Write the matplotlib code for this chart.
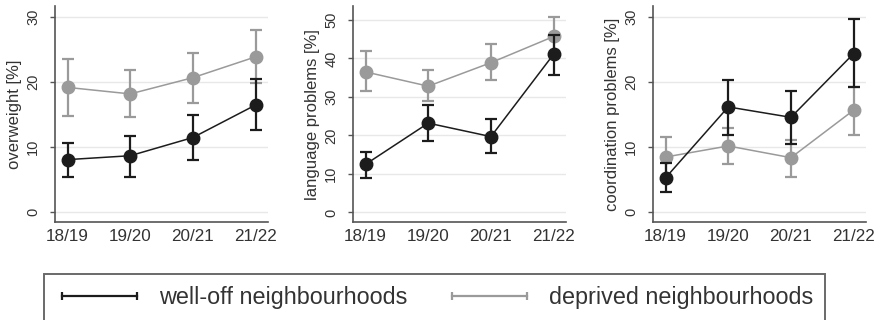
import matplotlib
matplotlib.use("Agg")
import matplotlib.pyplot as plt
from matplotlib.lines import Line2D
import numpy as np

# school years
years = ["18/19", "19/20", "20/21", "21/22"]

# overweight [%]
ow_welloff = [8.1, 8.7, 11.5, 16.5]
ow_welloff_lo = [5.4, 5.4, 8.1, 12.6]
ow_welloff_hi = [10.7, 11.8, 14.9, 20.5]
ow_deprived = [19.2, 18.2, 20.7, 23.9]
ow_deprived_lo = [14.8, 14.7, 16.8, 19.9]
ow_deprived_hi = [23.6, 21.8, 24.5, 28.0]

# language problems [%]
lang_welloff = [12.5, 23.2, 19.7, 41.1]
lang_welloff_lo = [9.0, 18.5, 15.5, 35.7]
lang_welloff_hi = [15.8, 27.8, 24.3, 46.0]
lang_deprived = [36.5, 32.8, 38.9, 45.7]
lang_deprived_lo = [31.5, 29.0, 34.5, 41.0]
lang_deprived_hi = [41.9, 37.0, 43.8, 50.7]

# coordination problems [%]
coord_welloff = [5.3, 16.2, 14.6, 24.4]
coord_welloff_lo = [3.1, 11.9, 10.5, 19.2]
coord_welloff_hi = [7.6, 20.4, 18.6, 29.7]
coord_deprived = [8.5, 10.2, 8.4, 15.7]
coord_deprived_lo = [5.4, 7.4, 5.5, 11.9]
coord_deprived_hi = [11.6, 13.0, 11.1, 19.2]

BLACK = "#1c1c1c"
GREY = "#9a9a9a"
FONT = ["Liberation Sans", "DejaVu Sans"]

fig = plt.figure(figsize=(8.79, 3.2), dpi=100)

panels = [
    (0.0626, "overweight [%]", [0, 10, 20, 30], (-1.5, 31.7),
     (ow_welloff, ow_welloff_lo, ow_welloff_hi),
     (ow_deprived, ow_deprived_lo, ow_deprived_hi)),
    (0.4016, "language problems [%]", [0, 10, 20, 30, 40, 50], (-2.5, 53.6),
     (lang_welloff, lang_welloff_lo, lang_welloff_hi),
     (lang_deprived, lang_deprived_lo, lang_deprived_hi)),
    (0.7429, "coordination problems [%]", [0, 10, 20, 30], (-1.5, 31.7),
     (coord_welloff, coord_welloff_lo, coord_welloff_hi),
     (coord_deprived, coord_deprived_lo, coord_deprived_hi)),
]

x = np.arange(1, len(years) + 1)

for left, label, yticks, ylim, well, dep in panels:
    ax = fig.add_axes([left, 0.306, 0.2425, 0.675])
    for (vals, lo, hi), col, z in [(dep, GREY, 2), (well, BLACK, 3)]:
        vals = np.array(vals)
        err = [vals - np.array(lo), np.array(hi) - vals]
        ax.errorbar(x, vals, yerr=err, color=col, lw=1.1, marker="o",
                    ms=9, elinewidth=1.6, capsize=4, capthick=1.6, zorder=z)
    ax.set_xlim(0.8, 4.2)
    ax.set_ylim(*ylim)
    ax.set_xticks(x)
    ax.set_xticklabels(years, family=FONT, fontsize=12.3, color="#333333")
    ax.set_yticks(yticks)
    ax.set_yticklabels([str(t) for t in yticks], family=FONT, fontsize=10.5,
                       rotation=90, va="center", color="#333333")
    ax.tick_params(axis="x", length=0, pad=5)
    ax.tick_params(axis="y", length=3.6, width=1, color="#555555", pad=7)
    ax.grid(axis="y", color="#e8e8e8", lw=1)
    ax.set_axisbelow(True)
    for s in ["top", "right"]:
        ax.spines[s].set_visible(False)
    for s in ["left", "bottom"]:
        ax.spines[s].set_color("#555555")
        ax.spines[s].set_linewidth(1.2)
    ax.set_ylabel(label, family=FONT, fontsize=12, color="#333333", va="center")
    ax.yaxis.set_label_coords(-0.19, 0.5)

handles = [
    Line2D([], [], color=BLACK, lw=1.6, marker="|", ms=6, mew=1.6),
    Line2D([], [], color=GREY, lw=1.6, marker="|", ms=6, mew=1.6),
]
leg = fig.legend(handles, ["well-off neighbourhoods", "deprived neighbourhoods"],
                 loc="center", bbox_to_anchor=(0.494, 0.07), ncol=2, numpoints=2,
                 prop={"family": FONT, "size": 16.8}, handlelength=3.8,
                 handletextpad=0.65, columnspacing=1.6, borderpad=0.5,
                 borderaxespad=0, fancybox=False, frameon=True)
leg.get_frame().set_edgecolor("#444444")
leg.get_frame().set_linewidth(1.4)
for t in leg.get_texts():
    t.set_color("#333333")

fig.savefig("out.png", dpi=100)
